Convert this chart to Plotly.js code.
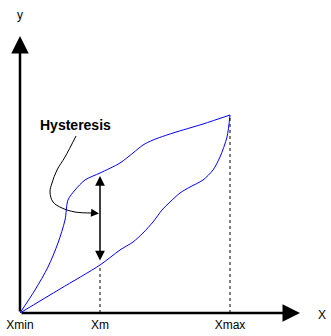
<!DOCTYPE html>
<html>
<head>
<meta charset="utf-8">
<script src="https://cdn.plot.ly/plotly-3.0.1.min.js"></script>
<style>html,body{margin:0;padding:0;background:#fff;}#chart{width:331px;height:336px;}</style>
</head>
<body>
<div id="chart"></div>
<script>
// Axis markers
var tickVals = [0, 8, 21];
var tickLabels = ["Xmin", "Xm", "Xmax"];
var xAxisEnd = 28;
var yAxisEnd = 27.7;

// Upper (loading) branch
var upperX = [0, 1.5, 2.8, 3.8, 4.5, 4.8, 5.5, 6.5, 8.0, 10.0, 11.3, 12.3, 13.3, 15.3, 18.3, 21.0];
var upperY = [0, 2.3, 4.6, 7.0, 9.3, 11.3, 12.3, 13.3, 14.0, 15.0, 16.0, 16.8, 17.3, 18.0, 18.9, 19.8];

// Lower (unloading) branch
var lowerX = [0, 4.0, 8.0, 10.0, 11.3, 12.3, 13.3, 14.2, 15.0, 16.0, 17.0, 18.3, 19.3, 20.0, 20.7, 21.0];
var lowerY = [0, 2.4, 4.8, 6.3, 7.1, 8.0, 9.1, 10.3, 11.1, 12.0, 12.6, 13.3, 14.3, 15.6, 17.6, 19.8];

// Hysteresis gap arrow at Xm
var gapBottom = 5.1;
var gapTop = 13.7;

// Callout leader curve
var leaderX = [5.6, 4.5, 3.7, 3.2, 3.0, 3.3, 4.2, 5.5, 7.3];
var leaderY = [17.7, 15.6, 14.3, 13.0, 12.1, 11.1, 10.5, 10.1, 10.0];
var leaderTip = [7.9, 9.95];
var calloutText = "Hysteresis";
var calloutPos = [5.5, 18.8];

var xm = tickVals[1], xmax = tickVals[2];
var lowerAtXm = lowerY[lowerX.indexOf(xm)];
var topAtXmax = upperY[upperX.indexOf(xmax)];

var font = {family: "Arial, 'Liberation Sans', sans-serif", size: 12, color: "#000"};

var traces = [
  {x: upperX, y: upperY, mode: "lines", line: {color: "#0000ff", width: 1, shape: "spline", smoothing: 0.8}, hoverinfo: "skip"},
  {x: lowerX, y: lowerY, mode: "lines", line: {color: "#0000ff", width: 1, shape: "spline", smoothing: 0.8}, hoverinfo: "skip"},
  {x: leaderX, y: leaderY, mode: "lines", line: {color: "#000", width: 1, shape: "spline", smoothing: 1}, hoverinfo: "skip"}
];

var layout = {
  width: 331, height: 336,
  margin: {l: 20, r: 31, t: 36, b: 23, pad: 0},
  paper_bgcolor: "#fff", plot_bgcolor: "#fff",
  showlegend: false,
  font: font,
  xaxis: {range: [0, xAxisEnd], showgrid: false, zeroline: false, showline: false,
          tickvals: tickVals, ticktext: tickLabels, ticks: "", ticklabelstandoff: 3, tickfont: font, fixedrange: true},
  yaxis: {range: [0, yAxisEnd], showgrid: false, zeroline: false, showline: false,
          showticklabels: false, ticks: "", fixedrange: true},
  shapes: [
    {type: "line", xref: "x", yref: "y", x0: xm, x1: xm, y0: 0, y1: lowerAtXm, line: {color: "#000", width: 1, dash: "3px,3px"}},
    {type: "line", xref: "x", yref: "y", x0: xmax, x1: xmax, y0: 0, y1: topAtXmax, line: {color: "#000", width: 1, dash: "3px,3px"}}
  ],
  annotations: [
    // x axis
    {x: xAxisEnd, y: 0, ax: 0, ay: 0, xref: "x", yref: "y", axref: "x", ayref: "y", text: "", showarrow: true,
     arrowhead: 2, arrowsize: 1.4, arrowwidth: 2.5, arrowcolor: "#000"},
    // y axis
    {x: 0, y: yAxisEnd, ax: 0, ay: 0, xref: "x", yref: "y", axref: "x", ayref: "y", text: "", showarrow: true,
     arrowhead: 2, arrowsize: 1.4, arrowwidth: 2.5, arrowcolor: "#000"},
    // gap double arrow
    {x: xm, y: gapTop, ax: xm, ay: gapBottom, xref: "x", yref: "y", axref: "x", ayref: "y", text: "", showarrow: true,
     arrowhead: 2, startarrowhead: 2, arrowside: "end+start", arrowsize: 1.3, startarrowsize: 1.3, arrowwidth: 1.5, arrowcolor: "#000"},
    // leader tip
    {x: leaderTip[0], y: leaderTip[1], ax: leaderX[leaderX.length - 1], ay: leaderY[leaderY.length - 1], xref: "x", yref: "y", axref: "x", ayref: "y",
     text: "", showarrow: true, arrowhead: 2, arrowsize: 1.6, arrowwidth: 1, arrowcolor: "#000"},
    // labels
    {x: calloutPos[0], y: calloutPos[1], xref: "x", yref: "y", text: "<b>" + calloutText + "</b>", showarrow: false,
     font: {family: font.family, size: 14, color: "#000"}},
    {x: 0, y: 1, xref: "x", yref: "paper", yshift: 30, text: "y", showarrow: false, font: font},
    {x: 1, y: 0, xref: "paper", yref: "y", xshift: 28, yshift: -2, text: "X", showarrow: false, font: font}
  ]
};

Plotly.newPlot("chart", traces, layout, {displayModeBar: false, staticPlot: true});
</script>
</body>
</html>
